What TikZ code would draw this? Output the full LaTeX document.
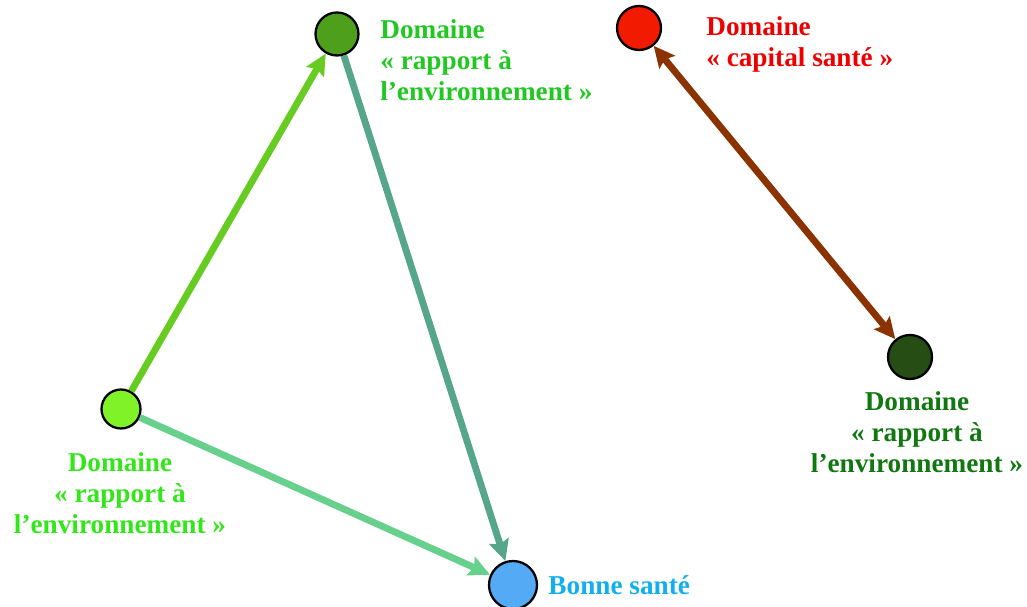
\documentclass[tikz,border=0pt]{standalone}
\usepackage{fontspec}
\setmainfont{Liberation Serif}
\usetikzlibrary{arrows.meta}
\usetikzlibrary{positioning}
\usepackage{xcolor}
\definecolor{leafgreen}{HTML}{4E9F1C}
\definecolor{limegreen}{HTML}{80F228}
\definecolor{forestdark}{HTML}{264D14}
\definecolor{alertred}{HTML}{F21A00}
\definecolor{skyblue}{HTML}{55AAF5}
\definecolor{txtgreen}{HTML}{22C822}
\definecolor{txtlime}{HTML}{33E61A}
\definecolor{txtforest}{HTML}{117711}
\definecolor{txtred}{HTML}{EE0000}
\definecolor{txtblue}{HTML}{12AEEE}
\definecolor{edgelime}{HTML}{66CC22}
\definecolor{edgeteal}{HTML}{55A68A}
\definecolor{edgemint}{HTML}{66D08C}
\definecolor{edgebrown}{HTML}{8B3300}

\begin{document}
\begin{tikzpicture}[
        x=0.02cm, y=-0.02cm,
        dompoint/.style={circle, draw=black, line width=1.3pt, inner sep=0pt},
        lbl/.style={font=\bfseries\fontsize{15.5}{17.6}\selectfont, inner sep=0pt},
        link/.style={line width=3.9pt, -{Stealth[length=0.42cm, width=0.4cm, inset=0.07cm]}},
        twoway/.style={line width=3.9pt, {Stealth[length=0.42cm, width=0.4cm, inset=0.07cm]}-{Stealth[length=0.42cm, width=0.4cm, inset=0.07cm]}},
      ]
      \useasboundingbox (0,0) rectangle (1027,607);

      % --- domaines ---
      \node[dompoint, fill=leafgreen, minimum size=0.86cm] (envtop) at (337,34) {};
      \node[dompoint, fill=alertred, minimum size=0.88cm] (capital) at (639,28) {};
      \node[dompoint, fill=limegreen, minimum size=0.78cm] (envleft) at (121,409) {};
      \node[dompoint, fill=skyblue, minimum size=0.96cm] (sante) at (513,585) {};
      \node[dompoint, fill=forestdark, minimum size=0.88cm] (envright) at (910,357) {};

      % --- labels ---
      \node[lbl, text=txtgreen, anchor=west, align=left] (envtoplbl) at (380,60)
        {Domaine\\« rapport à\\l’environnement »};
      \node[lbl, text=txtred, anchor=west, align=left] (capitallbl) at (706,44)
        {Domaine\\« capital santé »};
      \node[lbl, text=txtlime, align=center] (envleftlbl) at (120,493)
        {Domaine\\« rapport à\\l’environnement »};
      \node[lbl, text=txtforest, align=center] (envrightlbl) at (917,432)
        {Domaine\\« rapport à\\l’environnement »};
      \node[lbl, text=txtblue, right=0.2cm of sante] (santelbl) {Bonne santé};

      % --- liens ---
      \draw[link, edgelime] (envleft) -- (envtop);
      \draw[link, edgeteal] (envtop) -- (sante);
      \draw[link, edgemint] (envleft) -- (sante);
      \draw[twoway, edgebrown] (capital) -- (envright);

\end{tikzpicture}
\end{document}
